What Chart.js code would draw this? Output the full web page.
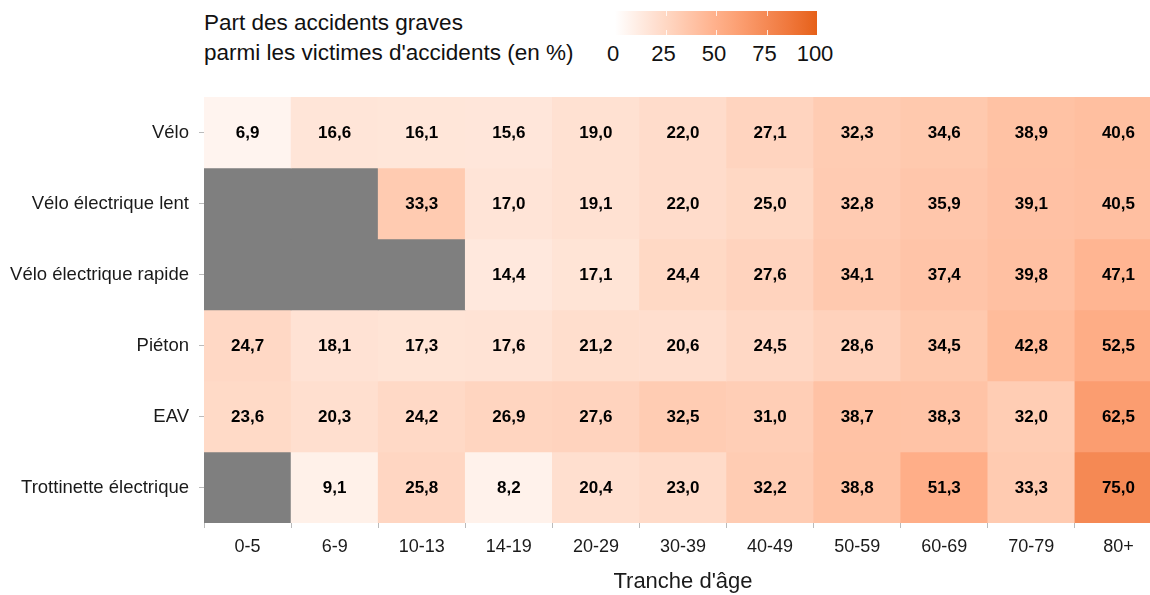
<!DOCTYPE html>
<html lang="fr">
<head>
<meta charset="utf-8">
<title>Part des accidents graves</title>
<script src="https://cdn.jsdelivr.net/npm/chart.js@4"></script>
<style>
  html, body { margin: 0; padding: 0; background: #fff; overflow: hidden; }
  body { width: 1150px; height: 595px; position: relative; font-family: 'Liberation Sans', Arial, sans-serif; }
  #wrap { position: absolute; left: 0; top: 0; width: 1162px; height: 595px; }
  #legende { position: absolute; left: 0; top: 0; width: 1150px; height: 90px; pointer-events: none; }
  #legende .titre { position: absolute; left: 204px; top: 8px; font-size: 22.5px; line-height: 30px; color: #111; }
  #barre { position: absolute; left: 615px; top: 11px; width: 202px; height: 24px; }
  #legende .lab { position: absolute; top: 41px; font-size: 22px; color: #111; transform: translateX(-50%); }
</style>
</head>
<body>
<div id="legende">
  <div class="titre">Part des accidents graves<br>parmi les victimes d'accidents (en %)</div>
  <div id="barre"></div>
</div>
<div id="wrap"><canvas id="chartHeatmap"></canvas></div>
<script>
// Heatmap - part des accidents graves par tranche d'âge

const tranches = ['0-5', '6-9', '10-13', '14-19', '20-29', '30-39', '40-49', '50-59', '60-69', '70-79', '80+'];
const usagers = ['Vélo', 'Vélo électrique lent', 'Vélo électrique rapide', 'Piéton', 'EAV', 'Trottinette électrique'];

const velo = [6.9, 16.6, 16.1, 15.6, 19.0, 22.0, 27.1, 32.3, 34.6, 38.9, 40.6];
const veloLent = [null, null, 33.3, 17.0, 19.1, 22.0, 25.0, 32.8, 35.9, 39.1, 40.5];
const veloRapide = [null, null, null, 14.4, 17.1, 24.4, 27.6, 34.1, 37.4, 39.8, 47.1];
const pieton = [24.7, 18.1, 17.3, 17.6, 21.2, 20.6, 24.5, 28.6, 34.5, 42.8, 52.5];
const eav = [23.6, 20.3, 24.2, 26.9, 27.6, 32.5, 31.0, 38.7, 38.3, 32.0, 62.5];
const trottinette = [null, 9.1, 25.8, 8.2, 20.4, 23.0, 32.2, 38.8, 51.3, 33.3, 75.0];

const valeurs = [velo, veloLent, veloRapide, pieton, eav, trottinette];
const legendeTicks = [0, 25, 50, 75, 100];

const COULEUR_NA = '#7f7f7f';
const COULEUR_MIN = [255, 255, 255];
const COULEUR_MAX = [230, 96, 24];

// conversion sRGB <-> Lab pour un dégradé proche de ggplot
function srgbToLin(c) { c /= 255; return c <= 0.04045 ? c / 12.92 : Math.pow((c + 0.055) / 1.055, 2.4); }
function linToSrgb(c) { c = c <= 0.0031308 ? 12.92 * c : 1.055 * Math.pow(c, 1 / 2.4) - 0.055; return Math.round(Math.min(1, Math.max(0, c)) * 255); }
function toLab(rgb) {
    const [r, g, b] = rgb.map(srgbToLin);
    let x = (0.4124 * r + 0.3576 * g + 0.1805 * b) / 0.95047;
    let y = (0.2126 * r + 0.7152 * g + 0.0722 * b);
    let z = (0.0193 * r + 0.1192 * g + 0.9505 * b) / 1.08883;
    const f = t => t > 0.008856 ? Math.cbrt(t) : 7.787 * t + 16 / 116;
    x = f(x); y = f(y); z = f(z);
    return [116 * y - 16, 500 * (x - y), 200 * (y - z)];
}
function fromLab(lab) {
    const fy = (lab[0] + 16) / 116, fx = fy + lab[1] / 500, fz = fy - lab[2] / 200;
    const inv = t => t * t * t > 0.008856 ? t * t * t : (t - 16 / 116) / 7.787;
    const x = inv(fx) * 0.95047, y = inv(fy), z = inv(fz) * 1.08883;
    const r = 3.2406 * x - 1.5372 * y - 0.4986 * z;
    const g = -0.9689 * x + 1.8758 * y + 0.0415 * z;
    const b = 0.0557 * x - 0.2040 * y + 1.0570 * z;
    return [linToSrgb(r), linToSrgb(g), linToSrgb(b)];
}
const LAB_MIN = toLab(COULEUR_MIN);
const LAB_MAX = toLab(COULEUR_MAX);
function couleur(v) {
    if (v === null) return COULEUR_NA;
    const t = Math.max(0, Math.min(1, v / 100));
    const lab = LAB_MIN.map((a, i) => a + (LAB_MAX[i] - a) * t);
    const c = fromLab(lab);
    return `rgb(${c[0]}, ${c[1]}, ${c[2]})`;
}

function formatFr(v) {
    return v.toFixed(1).replace('.', ',');
}

// légende (barre de couleur)
const barre = document.getElementById('barre');
const stops = [];
for (let i = 0; i <= 20; i++) stops.push(`${couleur(i * 5)} ${i * 5}%`);
barre.style.background = `linear-gradient(to right, ${stops.join(', ')})`;
const legende = document.getElementById('legende');
legendeTicks.forEach(t => {
    const lab = document.createElement('div');
    lab.className = 'lab';
    lab.textContent = t;
    lab.style.left = (615 + 202 * t / 100 - 2) + 'px';
    legende.appendChild(lab);
    if (t > 0 && t < 100) {
        const trait = document.createElement('div');
        trait.style.cssText = `position:absolute;left:${615 + 202 * t / 100}px;top:11px;width:1px;height:24px;background:linear-gradient(rgba(255,255,255,0.8) 0 5px, transparent 5px 19px, rgba(255,255,255,0.8) 19px)`;
        legende.appendChild(trait);
    }
});

// valeurs dans les cases
const etiquettesCases = {
    id: 'etiquettesCases',
    afterDatasetsDraw(chart) {
        const ctx = chart.ctx;
        ctx.save();
        ctx.font = "bold 17px 'Liberation Sans', Arial, sans-serif";
        ctx.fillStyle = '#000';
        ctx.textAlign = 'center';
        ctx.textBaseline = 'middle';
        chart.data.datasets.forEach((ds, i) => {
            const meta = chart.getDatasetMeta(i);
            meta.data.forEach((el, j) => {
                const v = valeurs[i][j];
                if (v === null) return;
                const p = el.getCenterPoint();
                ctx.fillText(formatFr(v), p.x, p.y + 1);
            });
        });
        ctx.restore();
    }
};

Chart.defaults.font.family = "'Liberation Sans', Arial, sans-serif";
Chart.defaults.color = '#1a1a1a';

const datasets = usagers.map((nom, i) => ({
    label: nom,
    data: tranches.map(() => 1),
    backgroundColor: valeurs[i].map(couleur),
    borderWidth: 0,
    barPercentage: 1,
    categoryPercentage: 1
}));

new Chart(document.getElementById('chartHeatmap'), {
    type: 'bar',
    data: { labels: tranches, datasets: datasets },
    options: {
        responsive: true,
        maintainAspectRatio: false,
        animation: false,
        layout: { padding: { top: 97, left: 0, right: 0, bottom: 0 } },
        plugins: {
            legend: { display: false },
            tooltip: { enabled: false }
        },
        scales: {
            x: {
                stacked: true,
                grid: { drawOnChartArea: false, drawTicks: true, tickLength: 5, color: '#bbb' },
                border: { display: false },
                ticks: { font: { size: 18 }, color: '#1a1a1a', padding: 8 },
                title: { display: true, text: "Tranche d'âge", font: { size: 22 }, color: '#1a1a1a', padding: { top: 12, bottom: 0 } },
                afterFit(scale) { scale.height = 72; }
            },
            y: {
                type: 'linear',
                stacked: true,
                reverse: true,
                min: 0,
                max: usagers.length,
                afterBuildTicks(axis) {
                    axis.ticks = usagers.map((u, i) => ({ value: i + 0.5 }));
                },
                grid: { drawOnChartArea: false, drawTicks: true, tickLength: 5, color: '#bbb' },
                border: { display: false },
                ticks: {
                    font: { size: 18.5 },
                    color: '#1a1a1a',
                    padding: 10,
                    callback: (v, i) => usagers[i]
                },
                afterFit(scale) { scale.width = 204; }
            }
        }
    },
    plugins: [etiquettesCases]
});
</script>
</body>
</html>
